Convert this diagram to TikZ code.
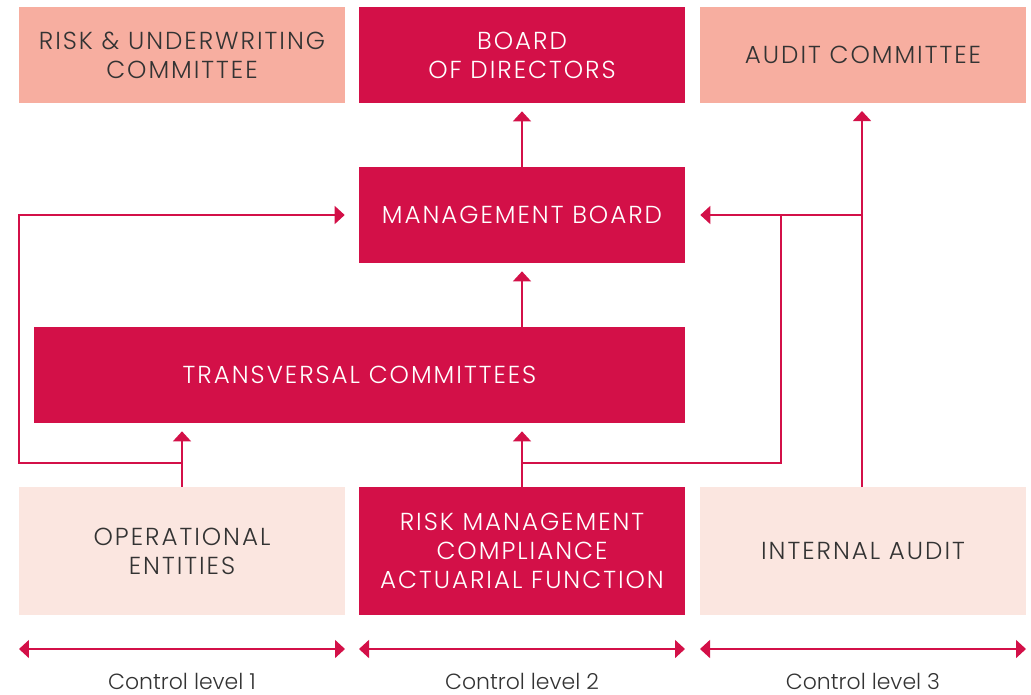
\documentclass[tikz,border=0pt]{standalone}
\usepackage{fontspec}
\setmainfont{Poppins}[UprightFont=* Light]
\newfontfamily\capsfont{Poppins}[UprightFont=* Light,LetterSpace=8]
\usetikzlibrary{arrows.meta}
\definecolor{crimson}{HTML}{D31048}
\definecolor{salmon}{HTML}{F7AEA0}
\definecolor{blush}{HTML}{FBE6E0}
\definecolor{inktext}{HTML}{333333}
\begin{document}
\begin{tikzpicture}[x=0.02cm,y=-0.02cm,
  every node/.style={align=center,inner sep=0pt},
  box/.style={minimum width=6.52cm,minimum height=1.92cm,font=\capsfont\fontsize{14}{16.4}\selectfont},
  dark/.style={box,fill=crimson,text=white},
  mid/.style={box,fill=salmon,text=inktext},
  pale/.style={box,fill=blush,text=inktext,minimum height=2.56cm},
  link/.style={crimson,line width=0.85pt},
  level/.style={text=inktext,anchor=base,font=\fontsize{12.5}{14}\selectfont},
  >={Triangle[length=0.2cm,width=0.36cm]}]
  \useasboundingbox (0,0) rectangle (1031,694);

  \node[mid] at (182,55) (risk) {RISK \& UNDERWRITING\\COMMITTEE};
  \node[dark] at (522,55) (board) {BOARD\\OF DIRECTORS};
  \node[mid] at (863,55) (audit) {AUDIT COMMITTEE};

  \node[dark] at (522,215) (mgmt) {MANAGEMENT BOARD};
  \node[dark,minimum width=13.02cm] at (359.5,375) (trans) {TRANSVERSAL COMMITTEES};

  \node[pale] at (182,551) (oper) {OPERATIONAL\\ENTITIES};
  \node[dark,minimum height=2.56cm] at (522,551) (rmc) {RISK MANAGEMENT\\COMPLIANCE\\ACTUARIAL FUNCTION};
  \node[pale] at (863,551) (iaudit) {INTERNAL AUDIT};

  \coordinate (jl) at (182,463);
  \coordinate (jr) at (522,463);
  \coordinate (ja) at (862,215);

  \draw[link] (mgmt) edge[->,shorten >=0.16cm] (board);
  \draw[link] (trans.north -| mgmt) edge[->,shorten >=0.16cm] (mgmt);
  \draw[link] (oper.north) edge[->,shorten >=0.16cm] (oper.north |- trans.south);
  \draw[link] (rmc.north) edge[->,shorten >=0.16cm] (rmc.north |- trans.south);
  \draw[link] (862,487) edge[->,shorten >=0.16cm] (862,103);

  \draw[link,->,shorten >=0.28cm] (jl) -- ++(-163,0) |- (mgmt.west);
  \draw[link,->,shorten >=0.3cm] (jr) -- ++(259,0) |- (mgmt.east);
  \draw[link] (ja) -- ++(-81,0);

  \draw[link,<->] (19,649) -- (345,649);
  \draw[link,<->] (359,649) -- (685,649);
  \draw[link,<->] (700,649) -- (1026,649);

  \node[level] at (182,689) (lvl1) {Control level 1};
  \node[level] at (522,689) (lvl2) {Control level 2};
  \node[level] at (863,689) (lvl3) {Control level 3};
\end{tikzpicture}
\end{document}
